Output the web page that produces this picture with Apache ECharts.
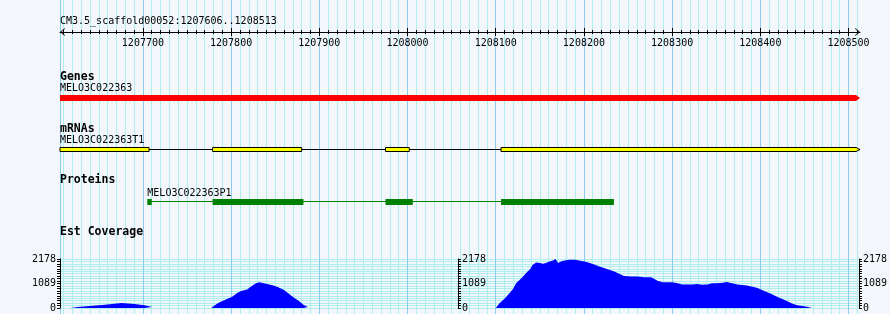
<!DOCTYPE html>
<html><head><meta charset="utf-8">
<script src="https://cdn.jsdelivr.net/npm/echarts@6/dist/echarts.min.js"></script>
<style>html,body{margin:0;padding:0;background:#f3f6fb}#c{width:890px;height:314px}</style>
</head><body><div id="c"></div>
<script>
// ---------- data ----------
const regionName = 'CM3.5_scaffold00052';
const regionStart = 1207606;
const regionEnd = 1208513;
const majorTicks = [1207700, 1207800, 1207900, 1208000, 1208100, 1208200, 1208300, 1208400, 1208500];
const trackNames = ['Genes', 'mRNAs', 'Proteins', 'Est Coverage'];
const geneName = 'MELO3C022363';
const geneSpan = [1207606, 1208513];
const mrnaName = 'MELO3C022363T1';
const mrnaExons = [[1207606, 1207707], [1207779, 1207880], [1207975, 1208002], [1208106, 1208513]];
const proteinName = 'MELO3C022363P1';
const proteinCds = [[1207705, 1207710], [1207779, 1207882], [1207975, 1208006], [1208106, 1208234]];
const covMax = 2178;
const covLabels = [0, 1089, 2178];
const covHump1 = [[1207618,0],[1207619,45],[1207626,90],[1207640,150],[1207657,225],[1207676,180],[1207691,120],[1207702,45],[1207711,0]];
const covHump2 = [[1207778,0],[1207779,45],[1207783,150],[1207787,240],[1207791,315],[1207796,405],[1207802,495],[1207808,675],[1207813,765],[1207819,825],[1207823,945],[1207829,1095],[1207833,1140],[1207838,1095],[1207844,1050],[1207849,1005],[1207855,915],[1207861,795],[1207866,645],[1207872,465],[1207878,315],[1207883,150],[1207888,45],[1207889,0]];
const covHump3 = [[1208102,0],[1208103,45],[1208106,195],[1208110,345],[1208114,495],[1208118,675],[1208122,870],[1208125,1095],[1208129,1245],[1208133,1395],[1208137,1575],[1208141,1725],[1208144,1920],[1208148,2025],[1208152,1995],[1208156,1965],[1208159,1995],[1208163,2070],[1208167,2115],[1208170,2175],[1208173,1995],[1208176,2070],[1208180,2115],[1208186,2145],[1208192,2145],[1208197,2115],[1208203,2070],[1208209,1995],[1208214,1935],[1208220,1845],[1208226,1770],[1208231,1695],[1208237,1620],[1208243,1515],[1208248,1425],[1208256,1395],[1208263,1395],[1208271,1365],[1208279,1365],[1208280,1320],[1208286,1215],[1208292,1140],[1208297,1140],[1208303,1140],[1208309,1095],[1208314,1050],[1208320,1050],[1208326,1050],[1208331,1065],[1208337,1035],[1208343,1050],[1208348,1095],[1208354,1095],[1208360,1125],[1208365,1155],[1208371,1095],[1208377,1050],[1208382,1020],[1208388,1005],[1208394,945],[1208399,900],[1208405,795],[1208411,705],[1208417,600],[1208422,495],[1208428,405],[1208434,300],[1208439,195],[1208445,120],[1208451,90],[1208456,60],[1208462,30],[1208464,0]];

// ---------- layout / style ----------
const MONO = '"DejaVu Sans Mono", "Liberation Mono", monospace';
const minorColor = '#afeeee';
const majorColor = '#8ccbea';
const L = { ruler: 32, geneTop: 95, geneH: 6, geneLabel: 88, mrnaTop: 147.5, mrnaH: 4, mrnaLabel: 140,
            protTop: 199, protH: 6, protLabel: 193, trackLabels: [77, 129, 180, 232] };
const minorTicks = [];
for (let v = Math.ceil(regionStart / 10) * 10; v <= regionEnd; v += 10) if (v % 100 !== 0) minorTicks.push(v);

const chevron = 'path://M0,6 L5,0 L10,6 L8.6,6 L5,1.6 L1.4,6 Z';

function rulerAxis(ticks, len, inside, extra) {
  return Object.assign({
    type: 'value', gridIndex: 0, position: 'top', offset: -L.ruler,
    min: regionStart, max: regionEnd,
    axisLine: { show: false, onZero: false },
    axisTick: { show: true, customValues: ticks, length: len, inside: inside, lineStyle: { color: '#000', width: 1 } },
    axisLabel: { show: false },
    splitLine: { show: false }
  }, extra || {});
}

const xAxes = [
  rulerAxis(minorTicks, 2, false, {
    axisLine: { show: true, onZero: false, lineStyle: { color: '#000', width: 1 },
                symbol: [chevron, chevron], symbolSize: [8, 4.8], symbolOffset: [2.4, -2.4] },
    splitLine: { show: true, lineStyle: { color: minorColor, width: 1 } }
  }),
  rulerAxis(minorTicks, 2, true),
  rulerAxis(majorTicks, 4, false, { splitLine: { show: true, lineStyle: { color: majorColor, width: 1 } } }),
  rulerAxis(majorTicks, 4, true, {
    axisLabel: { show: true, inside: true, customValues: majorTicks, formatter: v => String(v),
                 color: '#000', fontFamily: MONO, fontSize: 10, margin: 6 }
  }),
  { type: 'value', gridIndex: 1, min: regionStart, max: regionEnd, show: false }
];

function covAxis(position, offset, split) {
  return {
    type: 'value', gridIndex: 1, position: position, offset: offset,
    min: 0, max: covMax, interval: covMax / 20,
    axisLine: { show: true, onZero: false, lineStyle: { color: '#000', width: 1 } },
    axisTick: { show: true, length: 3, lineStyle: { color: '#000', width: 1 } },
    axisLabel: { customValues: covLabels, formatter: v => String(Math.round(v)),
                 color: '#000', fontFamily: MONO, fontSize: 10, margin: 4 },
    splitLine: { show: split, lineStyle: { color: minorColor, width: 1 } }
  };
}

const yAxes = [
  { type: 'value', gridIndex: 0, min: 0, max: 1,
    axisLine: { show: true, onZero: false, lineStyle: { color: majorColor, width: 1 } },
    axisTick: { show: false }, axisLabel: { show: false }, splitLine: { show: false } },
  covAxis('left', 0, true),
  covAxis('right', -399, false),
  covAxis('right', 2, false)
];

const xAt = (api, v) => api.coord([v, 0])[0];
const labelStyle = (text, x, y) => ({ type: 'text', z2: 50, style: { text: text, x: x, y: y, fill: '#000',
                                      font: '10px ' + MONO, verticalAlign: 'middle', align: 'left' } });

const series = [
  { // gene bar
    type: 'custom', xAxisIndex: 0, yAxisIndex: 0, data: [geneSpan], z: 5,
    renderItem: (p, api) => {
      const x0 = xAt(api, api.value(0)), x1 = xAt(api, api.value(1));
      const t = L.geneTop, h = L.geneH;
      return { type: 'group', children: [
        { type: 'polygon', shape: { points: [[x0, t], [x1 - 4, t], [x1, t + h / 2], [x1 - 4, t + h], [x0, t + h]] },
          style: { fill: '#ff0000' } },
        labelStyle(geneName, x0, L.geneLabel)
      ] };
    }
  },
  { // mRNA intron line + label
    type: 'custom', xAxisIndex: 0, yAxisIndex: 0, z: 5,
    data: [[mrnaExons[0][0], mrnaExons[mrnaExons.length - 1][1]]],
    renderItem: (p, api) => {
      const x0 = xAt(api, api.value(0)), x1 = xAt(api, api.value(1));
      const yc = L.mrnaTop + L.mrnaH / 2;
      return { type: 'group', children: [
        { type: 'line', shape: { x1: x0, y1: yc, x2: x1, y2: yc }, style: { stroke: '#000', lineWidth: 1 } },
        labelStyle(mrnaName, x0, L.mrnaLabel)
      ] };
    }
  },
  { // mRNA exons
    type: 'custom', xAxisIndex: 0, yAxisIndex: 0, data: mrnaExons, z: 6,
    renderItem: (p, api) => {
      const x0 = xAt(api, api.value(0)), x1 = xAt(api, api.value(1));
      const t = L.mrnaTop, h = L.mrnaH;
      const last = p.dataIndex === mrnaExons.length - 1;
      const pts = last
        ? [[x0, t], [x1 - 4, t], [x1, t + h / 2], [x1 - 4, t + h], [x0, t + h]]
        : [[x0, t], [x1, t], [x1, t + h], [x0, t + h]];
      return { type: 'polygon', shape: { points: pts }, style: { fill: '#ffff00', stroke: '#000', lineWidth: 1 } };
    }
  },
  { // protein line + label
    type: 'custom', xAxisIndex: 0, yAxisIndex: 0, z: 5,
    data: [[proteinCds[0][0], proteinCds[proteinCds.length - 1][1]]],
    renderItem: (p, api) => {
      const x0 = xAt(api, api.value(0)), x1 = xAt(api, api.value(1));
      const yc = L.protTop + 2.5;
      return { type: 'group', children: [
        { type: 'line', shape: { x1: x0, y1: yc, x2: x1, y2: yc }, style: { stroke: '#008000', lineWidth: 1 } },
        labelStyle(proteinName, x0, L.protLabel)
      ] };
    }
  },
  { // protein CDS blocks
    type: 'custom', xAxisIndex: 0, yAxisIndex: 0, data: proteinCds, z: 6,
    renderItem: (p, api) => {
      const x0 = xAt(api, api.value(0)), x1 = xAt(api, api.value(1));
      return { type: 'rect', shape: { x: x0, y: L.protTop, width: x1 - x0, height: L.protH }, style: { fill: '#008000' } };
    }
  }
];

[covHump1, covHump2, covHump3].forEach((d, i) => {
  series.push({
    type: 'line', xAxisIndex: 4, yAxisIndex: 1, data: d, step: i === 0 ? 'end' : false,
    symbol: 'none', lineStyle: { width: 0, color: '#0000ff' },
    areaStyle: { color: '#0000ff', opacity: 1 }, silent: true
  });
});

const graphic = [
  { type: 'text', x: 60, y: 21, z: 100, style: { text: regionName + ':' + regionStart + '..' + regionEnd,
    font: '10px ' + MONO, fill: '#000', verticalAlign: 'middle' } }
].concat(trackNames.map((n, i) => ({ type: 'text', x: 60, y: L.trackLabels[i], z: 100,
    style: { text: n, font: 'bold 11.5px ' + MONO, fill: '#000', verticalAlign: 'middle' } })));

const chart = echarts.init(document.getElementById('c'));
chart.setOption({
  backgroundColor: '#f3f6fb',
  animation: false,
  grid: [
    { left: 60, top: 0, width: 800, height: 314 },
    { left: 60, top: 259, width: 800, height: 49 }
  ],
  xAxis: xAxes,
  yAxis: yAxes,
  series: series,
  graphic: graphic
});
</script>
</body></html>
